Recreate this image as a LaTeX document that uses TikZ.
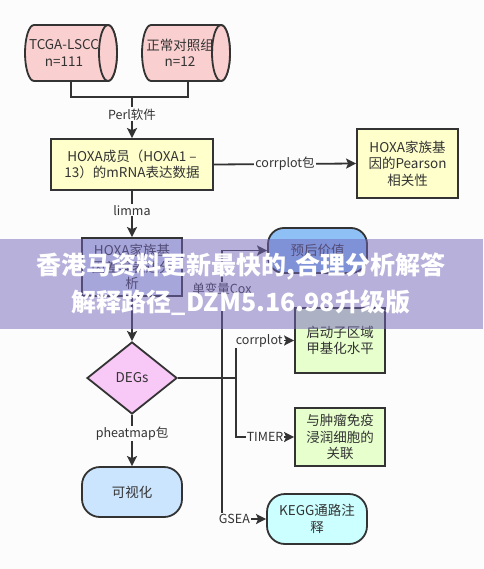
\documentclass[tikz,border=0pt]{standalone}
\usepackage{fontspec}
\setmainfont{Noto Sans CJK SC}
\usetikzlibrary{shapes.geometric,arrows.meta}
\definecolor{bgc}{HTML}{FCFCFD}
\definecolor{ink}{HTML}{333333}
\definecolor{cylfill}{HTML}{F9CFCF}
\definecolor{yel}{HTML}{FFFFCC}
\definecolor{diffc}{HTML}{DAE8FC}
\definecolor{progc}{HTML}{8FC0F5}
\definecolor{degc}{HTML}{F8C8F6}
\definecolor{grn}{HTML}{E6FFCC}
\definecolor{visc}{HTML}{CCE5FF}
\definecolor{keggc}{HTML}{CCFFFF}
\definecolor{bandc}{RGB}{115,101,187}
\tikzset{
  base/.style={draw=ink, line width=1.8pt, text=ink, align=center, inner sep=0pt,
    font=\fontsize{13.5}{16.5}\selectfont},
  plain/.style={text=ink, align=center, inner sep=0pt, font=\fontsize{13.5}{16.5}\selectfont},
  boxsq/.style={base, rectangle},
  boxrd/.style={base, rectangle, rounded corners=16pt},
  cylshape/.style={draw=ink, line width=1.8pt, fill=cylfill},
  dia/.style={base, diamond, aspect=1.25, minimum width=90pt, minimum height=72pt, fill=degc},
  conn/.style={draw=ink, line width=1.8pt},
  arr/.style={conn, -{Stealth[length=10pt,width=10pt,inset=2pt]}},
  lbl/.style={fill=bgc, text=ink, inner sep=1pt, font=\fontsize{12.5}{15}\selectfont},
  wm/.style={text=white, font=\fontsize{25}{30}\bfseries\selectfont, inner sep=0pt}
}
% horizontal cylinder: #1 left, #2 right, #3 centre y
\newcommand{\mycyl}[3]{%
  \path[cylshape] (#1+9,#3-28) -- (#2-9,#3-28)
    arc[start angle=270, end angle=450, x radius=9, y radius=28]
    -- (#1+9,#3+28)
    arc[start angle=90, end angle=270, x radius=9, y radius=28] -- cycle;
  \draw[cylshape] (#2-9,#3) ellipse[x radius=9, y radius=28];
}
\begin{document}
\begin{tikzpicture}[x=1pt,y=-1pt]
\useasboundingbox[fill=bgc] (0,0) rectangle (483,569);
% cylinders
\mycyl{25}{117}{53}
\mycyl{142}{230}{53}
\node[plain] (tcga) at (64,53) {TCGA-LSCC\\n=111};
\node[plain] (ctrl) at (180,53) {正常对照组\\n=12};
\coordinate (tcgab) at (71,81);
\coordinate (ctrlb) at (188,81);
% nodes
\node[boxsq, fill=yel, minimum width=162pt, minimum height=51pt] (hoxa) at (132,164.5) {HOXA成员（HOXA1 –\\13）的mRNA表达数据};
\node[boxsq, fill=yel, minimum width=101pt, minimum height=69pt] (pear) at (407.5,163.5) {HOXA家族基\\因的Pearson\\相关性};
\node[boxsq, fill=diffc, minimum width=100pt, minimum height=58pt] (diff) at (132,267) {HOXA家族基\\因差异表达分\\析};
\node[dia] (deg) at (132,378) {DEGs};
\node[boxrd, fill=visc, minimum width=100pt, minimum height=50pt, rounded corners=18pt] (vis) at (132,492) {可视化};
\node[boxrd, fill=progc, minimum width=99pt, minimum height=45pt] (prog) at (317.5,250.5) {预后价值};
\node[boxsq, fill=grn, minimum width=90pt, minimum height=65pt] (prom) at (340,340.5) {启动子区域\\甲基化水平};
\node[boxsq, fill=grn, minimum width=90pt, minimum height=58pt] (imm) at (340,437) {与肿瘤免疫\\浸润细胞的\\关联};
\node[boxrd, fill=keggc, minimum width=100pt, minimum height=50pt, rounded corners=18pt] (kegg) at (317,519) {KEGG通路注\\释};
% connectors
\coordinate (j1) at (132,97);
\coordinate (ja) at (222,378);
\coordinate (jb) at (236,378);
\draw[conn] (tcgab) |- (j1) -| (ctrlb);
\draw[arr] (j1) -- (hoxa.north) node[lbl, pos=0.42] (lperl) {Perl软件};
\draw[arr] (hoxa.east) -- (pear.west) node[lbl, midway] (lcorr) {corrplot包};
\draw[arr] (hoxa.south) -- (diff.north) node[lbl, pos=0.42] (llimma) {limma};
\draw[arr] (diff.south) -- (deg.north);
\draw[arr] (deg.south) -- (vis.north) node[lbl, pos=0.36] (lheat) {pheatmap包};
\draw[conn] (deg.east) -- (jb);
\draw[arr] (ja) |- (prog.west) node[lbl, pos=0.35] (lcox) {单变量Cox};
\draw[arr] (jb) |- (prom.west) node[lbl, pos=0.70] (lcorr2) {corrplot};
\draw[arr] (jb) |- (imm.west) node[lbl, pos=0.75] (ltimer) {TIMER};
\draw[arr] (ja) |- (kegg.west) node[lbl, pos=0.64] (lgsea) {GSEA};
% watermark band
\fill[bandc, opacity=0.5] (0,239) rectangle (483,329);
\node[wm] (wm1) at (241,267) {香港马资料更新最快的,合理分析解答};
\node[wm] (wm2) at (241,303) {解释路径\_DZM5.16.98升级版};
\end{tikzpicture}
\end{document}
